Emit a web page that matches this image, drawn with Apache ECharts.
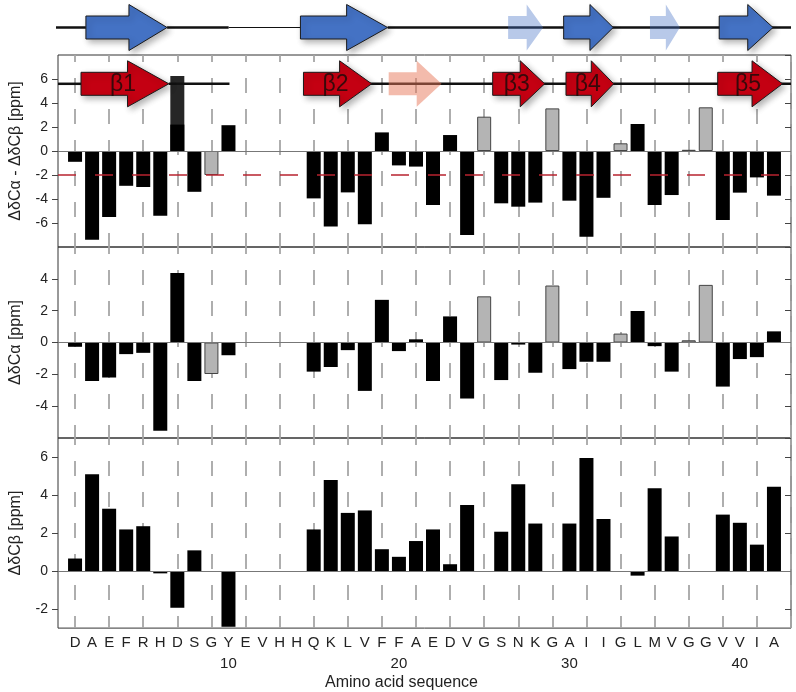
<!DOCTYPE html>
<html>
<head>
<meta charset="utf-8">
<script src="https://cdn.jsdelivr.net/npm/echarts@6/dist/echarts.min.js"></script>
<style>
html, body { margin: 0; padding: 0; background: #fff; }
#chart { width: 796px; height: 692px; }
</style>
</head>
<body>
<div id="chart"></div>
<script>
// Aβ42 sequence, residue numbers 1..42
var sequence = ['D','A','E','F','R','H','D','S','G','Y','E','V','H','H','Q','K','L','V','F','F',
                'A','E','D','V','G','S','N','K','G','A','I','I','G','L','M','V','G','G','V','V','I','A'];

// ΔδCα - ΔδCβ [ppm]
var diffCaCb = [-0.9,-7.4,-5.5,-2.9,-3.0,-5.4,6.25,-3.4,-2.0,2.15,
                null,null,null,null,-3.95,-6.3,-3.45,-6.1,1.55,-1.2,
                -1.3,-4.5,1.33,-7.0,2.86,-4.36,-4.64,-4.3,3.55,-4.14,
                -7.14,-3.9,0.64,2.25,-4.5,-3.67,0.1,3.64,-5.75,-3.47,-2.2,-3.72];
// black lower part of the D7 bar
var diffCaCbInner = [[7, 2.2]];

// ΔδCα [ppm]
var dCa = [-0.27,-2.42,-2.2,-0.73,-0.65,-5.54,4.37,-2.42,-1.98,-0.8,
           null,null,null,null,-1.83,-1.54,-0.48,-3.04,2.68,-0.54,
           0.2,-2.42,1.64,-3.52,2.9,-2.36,-0.13,-1.9,3.58,-1.67,
           -1.21,-1.21,0.56,1.98,-0.23,-1.83,0.14,3.62,-2.77,-1.04,-0.92,0.7];

// ΔδCβ [ppm]
var dCb = [0.66,5.09,3.28,2.19,2.36,-0.12,-1.93,1.09,null,-2.93,
           null,null,null,null,2.19,4.79,3.06,3.19,1.15,0.75,
           1.58,2.19,0.36,3.47,null,2.07,4.57,2.5,null,2.5,
           5.95,2.74,null,-0.24,4.36,1.82,null,null,2.97,2.54,1.39,4.44];

// residues drawn as grey bars (glycines)
var grayResidues = [9, 25, 29, 33, 37, 38];
var darkResidues = [7];

// secondary structure: [start residue, end residue, faded]
var blueStrands = [[1.75,6.5,0],[14.3,19.4,0],[26.45,28.5,1],[29.7,32.6,0],[34.75,36.5,1],[38.8,41.95,0]];
var blueLine = [[0,1.75,2.5],[6.5,10.1,2.5],[10.1,14.3,1],[19.4,43,2.5]];
// [start, end, faded, label]
var redStrands = [[1.35,6.5,0,'β1'],[14.4,18.4,0,'β2'],[19.4,22.5,1,''],[25.5,28.55,0,'β3'],[29.8,32.6,0,'β4'],[38.7,42.5,0,'β5']];
var redLine = [[0,1.35],[6.5,10.06],[18.25,43]];

var xLabels = sequence.map(function (s, i) { return (i + 1) % 10 === 0 ? s + '\n' + (i + 1) : s; });

var FONT = 'Liberation Sans, Arial, sans-serif';
var chart = echarts.init(document.getElementById('chart'));

function bars(values) {
    var out = [];
    values.forEach(function (v, i) {
        if (v === null) return;
        var r = i + 1, item = { value: [r, v] };
        if (grayResidues.indexOf(r) >= 0) item.itemStyle = { color: '#b4b4b4', borderColor: '#444', borderWidth: 1 };
        else if (darkResidues.indexOf(r) >= 0 && values === diffCaCb) item.itemStyle = { color: '#262626' };
        out.push(item);
    });
    return out;
}

function xAxis(gi, labels) {
    return {
        type: 'value', gridIndex: gi, min: 0, max: 43, interval: 1,
        axisLine: { show: false }, axisTick: { show: false },
        axisLabel: {
            show: labels, color: '#222', fontSize: 15, fontFamily: FONT, margin: 4, lineHeight: 21,
            formatter: function (v) { return v >= 1 && v <= 42 ? xLabels[v - 1] : ''; }
        },
        name: labels ? 'Amino acid sequence' : '',
        nameLocation: 'middle', nameGap: 46,
        nameTextStyle: { color: '#222', fontSize: 16, fontFamily: FONT, padding: [0, 46, 0, 0] },
        splitLine: { show: gi > 0, lineStyle: { color: ['rgba(0,0,0,0)', '#a6a6a6'], width: 1.8, type: [15, 16], dashOffset: 8 } }
    };
}

function yAxis(gi, min, max, name, custom) {
    var ax = {
        type: 'value', gridIndex: gi, min: min, max: max, interval: 2,
        name: name, nameLocation: 'middle', nameGap: 34,
        nameTextStyle: { color: '#222', fontSize: 16, fontFamily: FONT },
        axisLine: { show: false },
        axisTick: { show: true, length: 6, lineStyle: { color: '#444' } },
        axisLabel: { color: '#222', fontSize: 14, fontFamily: FONT, margin: 10, showMinLabel: false, showMaxLabel: false },
        splitLine: { show: false }
    };
    if (custom) {
        ax.interval = 1;
        ax.axisLabel.customValues = custom;
        ax.axisLabel.showMinLabel = true;
        ax.axisLabel.showMaxLabel = true;
        ax.axisTick.customValues = custom;
    }
    return ax;
}

function yRight(gi, min, max, custom) {
    var ax = {
        type: 'value', gridIndex: gi, min: min, max: max, interval: 2, position: 'right',
        axisLine: { show: false },
        axisTick: { show: true, inside: true, length: 6, lineStyle: { color: '#444' } },
        axisLabel: { show: false }, splitLine: { show: false }
    };
    if (custom) { ax.interval = 1; ax.axisTick.customValues = custom; }
    return ax;
}

function lineSegs(params, api) {
    var a = api.coord([api.value(0), api.value(3)]);
    var b = api.coord([api.value(1), api.value(3)]);
    return { type: 'line', shape: { x1: a[0], y1: a[1], x2: b[0], y2: b[1] },
             style: { stroke: '#111', lineWidth: api.value(2) } };
}

function arrowShape(params, api, fill, fade) {
    var s = api.coord([api.value(0), api.value(3)]);
    var e = api.coord([api.value(1), api.value(3)]);
    var y = s[1], head = (e[0] - s[0]) * 0.47, bh = 11.5, hh = 23;
    var faded = api.value(2) === 1;
    return {
        type: 'polygon',
        shape: { points: [[s[0], y - bh], [e[0] - head, y - bh], [e[0] - head, y - hh], [e[0], y],
                          [e[0] - head, y + hh], [e[0] - head, y + bh], [s[0], y + bh]] },
        style: faded ? { fill: fade } : {
            fill: fill, stroke: '#1a1a1a', lineWidth: 1,
            shadowBlur: 6, shadowOffsetX: 3, shadowOffsetY: 3, shadowColor: 'rgba(0,0,0,0.3)'
        }
    };
}

var TOP_Y = 0, RED_Y = 5.6;

var option = {
    animation: false,
    backgroundColor: '#fff',
    grid: [
        { left: 56, right: 5, top: 0, height: 55 },
        { left: 56, right: 5, top: 55, height: 192, show: true, borderColor: '#333', borderWidth: 1 },
        { left: 56, right: 5, top: 247, height: 191, show: true, borderColor: '#333', borderWidth: 1 },
        { left: 56, right: 5, top: 438, height: 191, show: true, borderColor: '#333', borderWidth: 1 }
    ],
    xAxis: [
        { type: 'value', gridIndex: 0, min: 0, max: 43, show: false },
        xAxis(1, false), xAxis(2, false), xAxis(3, true)
    ],
    yAxis: [
        { type: 'value', gridIndex: 0, min: -1, max: 1, show: false },
        yAxis(1, -8, 8, 'ΔδCα - ΔδCβ [ppm]'),
        yAxis(2, -6, 6, 'ΔδCα [ppm]'),
        yAxis(3, -3, 7, 'ΔδCβ [ppm]', [-2, 0, 2, 4, 6]),
        yRight(1, -8, 8), yRight(2, -6, 6), yRight(3, -3, 7, [-2, 0, 2, 4, 6])
    ],
    series: [
        {
            type: 'custom', xAxisIndex: 0, yAxisIndex: 0, z: 3,
            data: blueLine.map(function (d) { return [d[0], d[1], d[2], TOP_Y]; }),
            renderItem: lineSegs
        },
        {
            type: 'custom', xAxisIndex: 0, yAxisIndex: 0, z: 4,
            data: blueStrands.map(function (d) { return [d[0], d[1], d[2], TOP_Y]; }),
            renderItem: function (p, api) { return arrowShape(p, api, '#4472c4', 'rgba(68,114,196,0.38)'); }
        },
        {
            type: 'bar', xAxisIndex: 1, yAxisIndex: 1, barWidth: 14, barGap: '-100%',
            itemStyle: { color: '#000' },
            data: bars(diffCaCb),
            markLine: {
                silent: true, symbol: 'none', label: { show: false },
                data: [
                    { yAxis: 0, lineStyle: { color: '#777', width: 1, type: 'solid' } },
                    { yAxis: -2, lineStyle: { color: '#b8232f', width: 1.6, type: [18, 19] } }
                ]
            }
        },
        {
            type: 'bar', xAxisIndex: 1, yAxisIndex: 1, barWidth: 14, barGap: '-100%',
            itemStyle: { color: '#000' }, data: diffCaCbInner
        },
        {
            type: 'custom', xAxisIndex: 1, yAxisIndex: 1, z: 6,
            data: redLine.map(function (d) { return [d[0], d[1], 2.5, RED_Y]; }),
            renderItem: lineSegs
        },
        {
            type: 'custom', xAxisIndex: 1, yAxisIndex: 1, z: 7,
            data: redStrands.map(function (d) { return [d[0], d[1], d[2], RED_Y, d[3]]; }),
            renderItem: function (p, api) {
                var arrow = arrowShape(p, api, '#c40012', 'rgba(232,120,90,0.5)');
                var s = api.coord([api.value(0), RED_Y]), e = api.coord([api.value(1), RED_Y]);
                var label = redStrands[p.dataIndex][3];
                return { type: 'group', children: [arrow, {
                    type: 'text', z2: 10,
                    style: { text: label, x: (s[0] + e[0]) / 2 - 2, y: s[1] + 1, align: 'center', verticalAlign: 'middle',
                             fill: 'rgba(40,10,10,0.9)', font: '23px ' + FONT }
                }] };
            }
        },
        {
            type: 'bar', xAxisIndex: 2, yAxisIndex: 2, barWidth: 14,
            itemStyle: { color: '#000' }, data: bars(dCa),
            markLine: { silent: true, symbol: 'none', label: { show: false },
                        data: [{ yAxis: 0, lineStyle: { color: '#777', width: 1, type: 'solid' } }] }
        },
        {
            type: 'bar', xAxisIndex: 3, yAxisIndex: 3, barWidth: 14,
            itemStyle: { color: '#000' }, data: bars(dCb),
            markLine: { silent: true, symbol: 'none', label: { show: false },
                        data: [{ yAxis: 0, lineStyle: { color: '#777', width: 1, type: 'solid' } }] }
        }
    ]
};

chart.setOption(option);
</script>
</body>
</html>
